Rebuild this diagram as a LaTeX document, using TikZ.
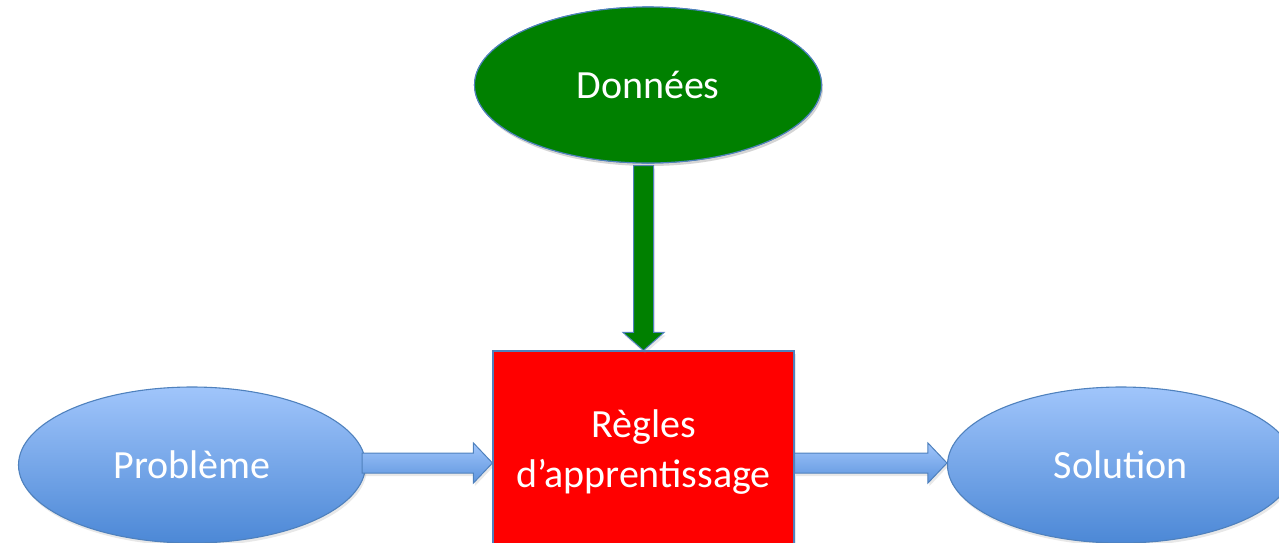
\documentclass[tikz,border=0pt]{standalone}
\usepackage{fontspec}
\setmainfont{Carlito}
\usetikzlibrary{shapes.geometric,shadows,calc}

\definecolor{edgeblue}{HTML}{4F81BD}
\definecolor{skytop}{HTML}{A0C5FB}
\definecolor{skybottom}{HTML}{4C88D6}
\definecolor{leafgreen}{HTML}{008000}

\tikzset{
  softshadow/.style={drop shadow={opacity=0.18, shadow xshift=1.5pt, shadow yshift=-3pt}},
  bigtext/.style={text=white, font=\fontsize{40}{50}\selectfont},
  oval/.style={ellipse, draw=edgeblue, line width=1.1pt, minimum width=347pt,
    minimum height=156pt, inner sep=0pt, softshadow, bigtext},
  blueoval/.style={oval, top color=skytop, bottom color=skybottom},
  greenoval/.style={oval, fill=leafgreen},
  rulebox/.style={rectangle, draw=edgeblue, line width=1.1pt, fill=red,
    minimum width=301pt, minimum height=224pt, inner sep=0pt, softshadow},
  ruletext/.style={align=center, inner sep=0pt, bigtext},
  flowarrow/.style={draw=edgeblue, line width=1pt, line join=miter,
    top color=skytop, bottom color=skybottom!80!skytop, softshadow},
  feedarrow/.style={draw=edgeblue, line width=1pt, line join=miter,
    fill=leafgreen, softshadow}
}

\begin{document}
\begin{tikzpicture}[x=1pt, y=-1pt]
  \useasboundingbox (0,0) rectangle (1279,542);

  % rule block and the three ovals around it
  \node[rulebox]   (rules) at (643.5,463) {};
  \node[ruletext]  (rulelabel) at ($(rules.center)+(0,11pt)$) {Règles\\d’apprentissage};
  \node[greenoval] (data)  at (648,85)    {Données};
  \node[blueoval]  (prob)  at (192,465)   {Problème};
  \node[blueoval]  (sol)   at (1121,465)  {Solution};

  % horizontal block arrows: problem -> rules -> solution
  \coordinate (a1) at ($(prob.east)+(-4pt,0)$);
  \coordinate (b1) at (rules.west);
  \draw[flowarrow] let \p1=(a1), \p2=(b1) in
    (\x1,\y2+10) -- (\x2-19,\y2+10) -- (\x2-19,\y2+20) -- (\x2,\y2)
    -- (\x2-19,\y2-20) -- (\x2-19,\y2-10) -- (\x1,\y2-10) -- cycle;

  \coordinate (a2) at (rules.east);
  \coordinate (b2) at ($(sol.west)+(0,-2pt)$);
  \draw[flowarrow] let \p1=(a2), \p2=(b2) in
    (\x1,\y1+10) -- (\x2-19,\y1+10) -- (\x2-19,\y1+20) -- (\x2,\y1)
    -- (\x2-19,\y1-20) -- (\x2-19,\y1-10) -- (\x1,\y1-10) -- cycle;

  % vertical arrow: data feeding the rules
  \coordinate (a3) at ($(data.south)+(5pt,-2pt)$);
  \coordinate (b3) at (rules.north);
  \draw[feedarrow] let \p1=(a3), \p2=(b3) in
    (\x2-10,\y1) -- (\x2-10,\y2+18) -- (\x2-20.5,\y2+18) -- (\x2,\y2)
    -- (\x2+20.5,\y2+18) -- (\x2+10,\y2+18) -- (\x2+10,\y1) -- cycle;

  % redraw the source oval's rim over the arrow start
  \node[greenoval, drop shadow={opacity=0}] at (data) {Données};
\end{tikzpicture}
\end{document}
